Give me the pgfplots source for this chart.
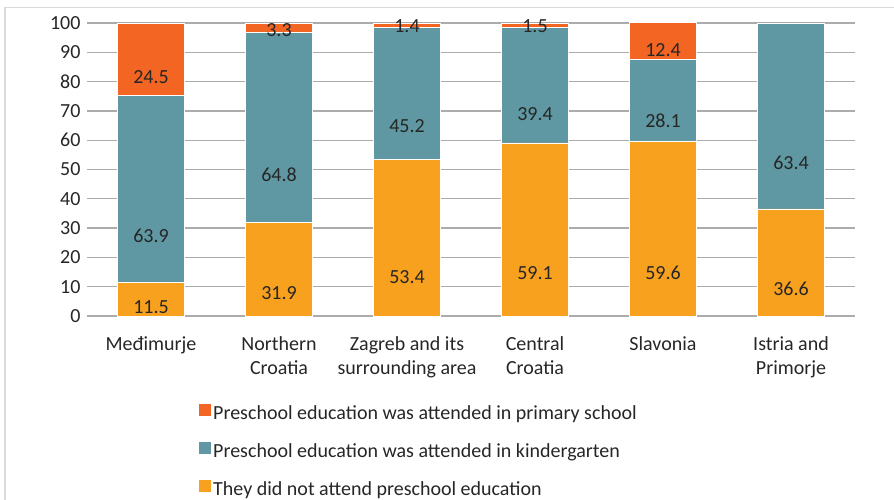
\documentclass[border=0pt]{standalone}
\usepackage{fontspec}
\setmainfont{Carlito}
\usepackage{pgfplots}
\usepackage{pgfplotstable}
\pgfplotsset{compat=1.18}

\definecolor{cPrim}{HTML}{F26522}
\definecolor{cKind}{HTML}{5F98A2}
\definecolor{cNone}{HTML}{F7A11E}
\definecolor{gridc}{HTML}{ABABAB}
\definecolor{framec}{HTML}{D9D9D9}
\definecolor{txt}{HTML}{262626}

% x, value, label
\pgfplotstableread{
x v lab
0 11.5 11.5
1 31.9 31.9
2 53.4 53.4
3 59.1 59.1
4 59.6 59.6
5 36.6 36.6
}\tnone
\pgfplotstableread{
x v lab
0 63.9 63.9
1 64.8 64.8
2 45.2 45.2
3 39.4 39.4
4 28.1 28.1
5 63.4 63.4
}\tkind
\pgfplotstableread{
x v lab
0 24.5 24.5
1 3.3 3.3
2 1.4 1.4
3 1.5 1.5
4 12.4 12.4
5 0 {}
}\tprim

\begin{document}
\begin{tikzpicture}[x=1pt,y=1pt]
\useasboundingbox (0,0) rectangle (894,-499);
\begin{scope}
  \clip (0,0) rectangle (894,-499);
  \draw[framec, line width=1.5pt] (5,-7.5) rectangle (920,-530);
\end{scope}
\begin{axis}[
    at={(87pt,-316pt)}, anchor=south west,
    scale only axis, width=768pt, height=293.3pt,
    ybar stacked, bar width=67pt,
    xmin=-0.5, xmax=5.5, ymin=0, ymax=100.1,
    xtick={0,...,5},
    xticklabels={Međimurje, Northern\\Croatia, Zagreb and its\\surrounding area, Central\\Croatia, Slavonia, Istria and\\Primorje},
    ytick={0,10,...,100},
    /pgf/number format/assume math mode=true,
    tick label style={font=\fontsize{20}{24}\selectfont, text=txt},
    xticklabel style={align=center, anchor=north, yshift=-17pt},
    yticklabel style={anchor=east, xshift=-3pt},
    axis line style={draw=none},
    tick style={draw=none},
    ymajorgrids, grid style={gridc, line width=1.3pt},
    point meta=explicit symbolic,
    nodes near coords,
    visualization depends on={\thisrow{v} \as \rawv},
    % the style is applied twice, so a quarter of the segment height centres the label
    every node near coord/.append style={font=\fontsize{20}{24}\selectfont, text=txt, anchor=center,
      yshift={-\rawv*0.7325pt}},
    reverse legend,
    legend cell align=left,
    legend style={at={(axis description cs:0.140,-0.29)}, anchor=north west, draw=none, fill=none,
      font=\fontsize{20}{24}\selectfont, text=txt, row sep=18pt,
      nodes={inner xsep=2pt}},
    legend image code/.code={\fill[#1] (0pt,-3pt) rectangle (13pt,10pt);},
]
\addplot[fill=cNone, draw=white, line width=0.5pt] table[x=x, y=v, meta=lab] {\tnone};
\addlegendentry{They did not attend preschool education}
\addplot[fill=cKind, draw=white, line width=0.5pt] table[x=x, y=v, meta=lab] {\tkind};
\addlegendentry{Preschool education was attended in kindergarten}
\addplot[fill=cPrim, draw=white, line width=0.5pt] table[x=x, y=v, meta=lab] {\tprim};
\addlegendentry{Preschool education was attended in primary school}
\end{axis}
\end{tikzpicture}
\end{document}
